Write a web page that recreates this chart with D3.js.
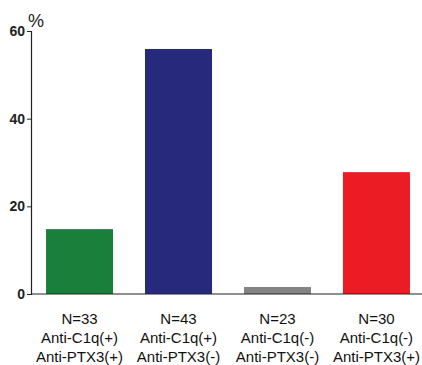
<!DOCTYPE html>
<html><head><meta charset="utf-8">
<script src="https://cdn.jsdelivr.net/npm/d3@7"></script>
<style>body{margin:0;background:#fff;}svg{display:block;}</style>
</head><body><svg id="c" width="422" height="365"></svg>
<script>
const categories = ["g1","g2","g3","g4"];
const labelN = ["N=33","N=43","N=23","N=30"];
const labelC1q = ["Anti-C1q(+)","Anti-C1q(+)","Anti-C1q(-)","Anti-C1q(-)"];
const labelPTX3 = ["Anti-PTX3(+)","Anti-PTX3(-)","Anti-PTX3(-)","Anti-PTX3(+)"];
const values = [14.8, 55.9, 1.6, 27.8];
const colors = ["#1b7f3c","#27297c","#848484","#ec1c24"];
const yTicks = [0,20,40,60];

const svg = d3.select("#c");
const font = "Liberation Sans, Arial, sans-serif";
const x0 = 31, yTop = 31, yBot = 294;
const y = d3.scaleLinear().domain([0,60]).range([yBot,yTop]);
const x = d3.scaleBand().domain(categories).range([x0,425]).paddingInner(0.323).paddingOuter(0.152);

svg.selectAll("rect.bar").data(values).join("rect")
  .attr("x",(d,i)=>x(categories[i])).attr("width",x.bandwidth())
  .attr("y",d=>y(d)).attr("height",d=>yBot-y(d))
  .attr("fill",(d,i)=>colors[i]);

const ya = svg.append("g").attr("transform",`translate(${x0},0)`)
  .call(d3.axisLeft(y).tickValues(yTicks).tickSize(4).tickPadding(2).tickFormat(d3.format("d")));
ya.select(".domain").attr("stroke","#222").attr("stroke-width",1.2);
ya.selectAll(".tick line").attr("stroke","#222");
ya.selectAll("text").attr("font-family",font).attr("font-size",14).attr("font-weight","bold").attr("fill","#222");

svg.append("line").attr("x1",x0).attr("x2",422).attr("y1",yBot).attr("y2",yBot)
  .attr("stroke","#222").attr("stroke-width",1.2);

svg.append("text").attr("x",28).attr("y",27).text("%")
  .attr("font-family",font).attr("font-size",18).attr("fill","#222");

const lines = [labelN, labelC1q, labelPTX3];
const baselines = [324, 343, 362];
lines.forEach((arr,li)=>{
  svg.selectAll(null).data(arr).join("text")
    .attr("x",(d,i)=>x(categories[i])+x.bandwidth()/2)
    .attr("y",baselines[li]).attr("text-anchor","middle")
    .attr("font-family",font).attr("font-size",15).attr("fill","#111")
    .text(d=>d);
});
</script></body></html>
